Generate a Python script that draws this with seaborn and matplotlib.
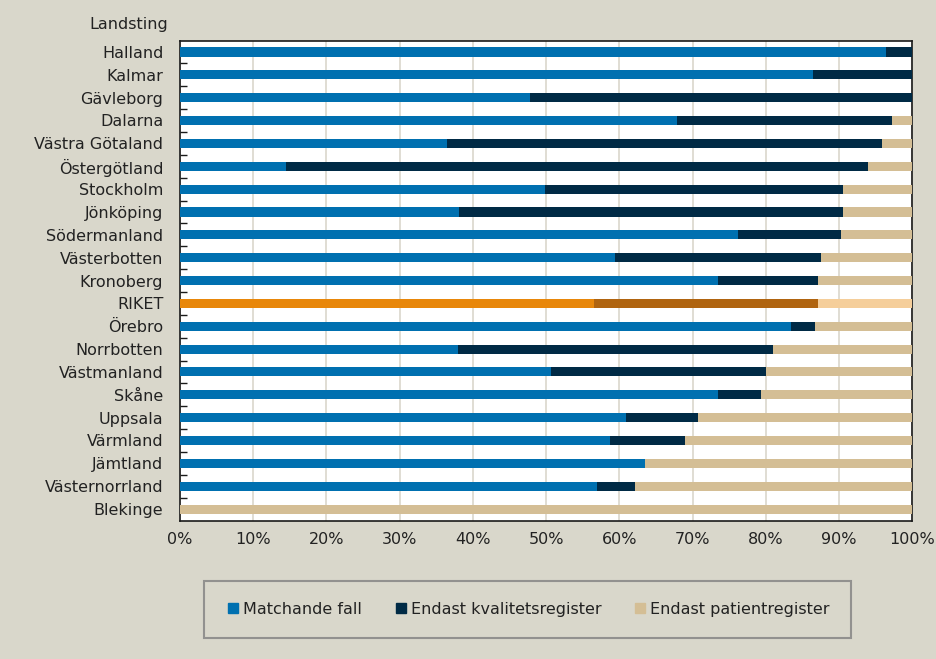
import matplotlib
matplotlib.use("Agg")
import matplotlib.pyplot as plt
import seaborn as sns
import pandas as pd
import numpy as np
from matplotlib.lines import Line2D

categories = ["Halland", "Kalmar", "Gävleborg", "Dalarna", "Västra Götaland",
              "Östergötland", "Stockholm", "Jönköping", "Södermanland",
              "Västerbotten", "Kronoberg", "RIKET", "Örebro", "Norrbotten",
              "Västmanland", "Skåne", "Uppsala", "Värmland", "Jämtland",
              "Västernorrland", "Blekinge"]
matchande = [96.4, 86.5, 47.8, 67.9, 36.4, 14.5, 49.8, 38.1, 76.2, 59.4, 73.4,
             56.5, 83.4, 38.0, 50.6, 73.4, 60.9, 58.7, 63.5, 57.0, 0.0]
kvalitet = [3.6, 13.5, 52.2, 29.3, 59.5, 79.5, 40.7, 52.4, 14.1, 28.1, 13.7,
            30.6, 3.3, 43.0, 29.4, 5.9, 9.8, 10.3, 0.0, 5.1, 0.0]
patient = [0.0, 0.0, 0.0, 2.8, 4.1, 6.0, 9.5, 9.5, 9.7, 12.5, 12.9,
           12.9, 13.3, 19.0, 20.0, 20.7, 29.3, 31.0, 36.5, 37.9, 100.0]
series_names = ["Matchande fall", "Endast kvalitetsregister", "Endast patientregister"]
xticks = [0, 10, 20, 30, 40, 50, 60, 70, 80, 90, 100]

bg = "#D9D7CB"
col_norm = ["#0070B0", "#002A45", "#D4BE95"]
col_riket = ["#E8870A", "#B0640F", "#F5CE9A"]

df = pd.DataFrame({"cat": categories, "m": matchande, "k": kvalitet, "p": patient})
df["c1"] = df["m"]
df["c2"] = df["m"] + df["k"]
df["c3"] = df["m"] + df["k"] + df["p"]

fig = plt.figure(figsize=(9.37, 6.59), dpi=100, facecolor=bg)
ax = fig.add_axes([180/937, 1-520.5/659, 732.3/937, 480/659])
ax.set_facecolor("white")

for level, colidx in (("c3", 2), ("c2", 1), ("c1", 0)):
    pal = {c: (col_riket[colidx] if c == "RIKET" else col_norm[colidx]) for c in categories}
    sns.barplot(data=df, x=level, y="cat", hue="cat", palette=pal, order=categories,
                hue_order=categories, orient="h", width=0.4, linewidth=0,
                legend=False, ax=ax, saturation=1, zorder=3)

ax.set_xlim(0, 100)
ax.set_ylim(len(categories) - 0.5, -0.5)
ax.set_xticks(xticks)
ax.set_xticklabels([f"{t}%" for t in xticks])
ax.set_xlabel("")
ax.set_ylabel("")
ax.grid(axis="x", color="#DDDAD0", linewidth=1.3, zorder=0)
ax.grid(axis="y", visible=False)
ax.set_axisbelow(True)
for s in ax.spines.values():
    s.set_color("#1a1a1a")
    s.set_linewidth(1.2)
ax.tick_params(axis="x", length=0, pad=8, labelsize=11.5, colors="#222222")
ax.tick_params(axis="y", length=0, pad=12, labelsize=11.5, colors="#222222")
ax.set_yticks(np.arange(len(categories) - 1) + 0.5, minor=True)
ax.tick_params(axis="y", which="minor", length=5, direction="in", color="#1a1a1a", width=1)

fig.text(168/937, 1-25/659, "Landsting", ha="right", va="center", fontsize=11.5, color="#222222")

handles = [Line2D([0], [0], marker="s", linestyle="", markersize=7,
                  markerfacecolor=c, markeredgecolor=c) for c in col_norm]
leg = fig.legend(handles, series_names, loc="center", bbox_to_anchor=(527.5/937, 1-609.5/659),
                 ncol=3, frameon=True, fontsize=11.5, handletextpad=0.15, columnspacing=1.9,
                 borderpad=1.3, handlelength=1.0, fancybox=False, borderaxespad=0)
leg.get_frame().set_facecolor(bg)
leg.get_frame().set_edgecolor("#808080")
leg.get_frame().set_linewidth(1.5)
for t in leg.get_texts():
    t.set_color("#222222")

fig.savefig("out.png", dpi=100, facecolor=bg)
